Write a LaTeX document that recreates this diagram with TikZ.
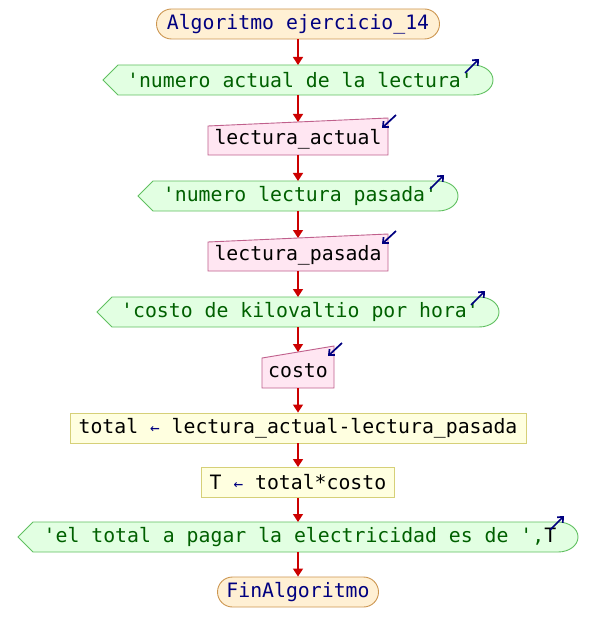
\documentclass[tikz,border=0pt]{standalone}
\usepackage{fontspec}
\setmonofont{DejaVu Sans Mono}
\usetikzlibrary{arrows.meta}

\definecolor{flowred}{RGB}{204,0,0}
\definecolor{navyink}{RGB}{0,0,128}
\definecolor{termfill}{RGB}{255,240,212}
\definecolor{termdraw}{RGB}{204,150,80}
\definecolor{outfill}{RGB}{226,255,226}
\definecolor{outdraw}{RGB}{96,192,96}
\definecolor{outtext}{RGB}{0,96,0}
\definecolor{infill}{RGB}{255,230,242}
\definecolor{indraw}{RGB}{192,96,140}
\definecolor{asgfill}{RGB}{255,255,224}
\definecolor{asgdraw}{RGB}{214,208,120}

\tikzset{
  txt/.style={font=\ttfamily\fontsize{19.8bp}{24bp}\selectfont, inner sep=0pt},
  termbox/.style={txt, draw=termdraw, fill=termfill, line width=0.9bp,
    rounded corners=15bp, minimum height=30bp, text=navyink},
  asgbox/.style={txt, draw=asgdraw, fill=asgfill, line width=0.9bp,
    minimum height=30bp, text=black},
  outshape/.style={draw=outdraw, fill=outfill, line width=0.9bp},
  inshape/.style={draw=indraw, fill=infill, line width=0.9bp},
  flow/.style={draw=flowred, line width=1.4bp,
    -{Triangle[length=8bp,width=10bp]}},
  iomark/.style={draw=navyink, line width=1.7bp,
    -{Straight Barb[length=4.5bp,width=8bp]}},
}

% output (display) shape: x1 tip, x2 right bulge, top, bottom, name, text
\newcommand{\outshapebox}[6]{%
  \path[outshape] (#1,{(#3+#4)/2}) -- ({#1+15},#3) -- ({#2-20},#3)
    .. controls ({#2-9},#3) and (#2,{(#3+#4)/2-8.5}) .. (#2,{(#3+#4)/2})
    .. controls (#2,{(#3+#4)/2+8.5}) and ({#2-9},#4) .. ({#2-20},#4)
    -- ({#1+15},#4) -- cycle;
  \node[txt, text=outtext] (#5) at ({(#1+#2)/2+2},{(#3+#4)/2}) {#6};
  \coordinate (#5-t) at (298,#3);
  \coordinate (#5-b) at (298,#4);
  \draw[iomark] ({#2-28},{#3+8}) -- ({#2-14},{#3-6});
}

% input (manual entry) shape: x1, x2, top left, top right, bottom, name, text
\newcommand{\inshapebox}[7]{%
  \path[inshape] (#1,#3) -- (#2,#4) -- (#2,#5) -- (#1,#5) -- cycle;
  \node[txt] (#6) at ({(#1+#2)/2},{((#3+#4)/2+#5)/2+1}) {#7};
  \coordinate (#6-t) at (298,{#3+(#4-#3)*(298-#1)/(#2-#1)});
  \coordinate (#6-b) at (298,#5);
  \draw[iomark] ({#2+8},{#4-3}) -- ({#2-6},{#4+10});
}

\begin{document}
\begin{tikzpicture}[x=1bp, y=-1bp]
\useasboundingbox (0,0) rectangle (596,643);
\fill[white] (0,0) rectangle (596,643);

% start and end of the algorithm
\node[termbox, minimum width=283bp] (inicio) at (298,24) {Algoritmo ejercicio\_14};
\node[termbox, minimum width=161bp] (fin) at (298,592) {FinAlgoritmo};

% reading the current meter value
\outshapebox{103}{493}{65}{95}{msgA}{'numero actual de la lectura'}
\inshapebox{208}{388}{126}{118}{155}{leeA}{lectura\_actual}

% reading the previous meter value
\outshapebox{138}{458}{181}{211}{msgB}{'numero lectura pasada'}
\inshapebox{208}{388}{242}{234}{271}{leeB}{lectura\_pasada}

% reading the cost per kilowatt hour
\outshapebox{97}{499}{297}{327}{msgC}{'costo de kilovaltio por hora'}
\inshapebox{262}{334}{358}{346}{388}{leeC}{costo}

% computations
\node[asgbox, minimum width=456bp] (asgA) at (298,428)
  {total {\color{navyink}\fontsize{16bp}{18bp}\selectfont ←} lectura\_actual-lectura\_pasada};
\node[asgbox, minimum width=193bp] (asgB) at (298,482.5)
  {T {\color{navyink}\fontsize{16bp}{18bp}\selectfont ←} total*costo};

% final message
\outshapebox{18}{578}{522}{552}{msgD}{'el total a pagar la electricidad es de ',{\color{black}T}}

% flow connectors
\draw[flow] (inicio.south) -- (msgA-t);
\draw[flow] (msgA-b) -- (leeA-t);
\draw[flow] (leeA-b) -- (msgB-t);
\draw[flow] (msgB-b) -- (leeB-t);
\draw[flow] (leeB-b) -- (msgC-t);
\draw[flow] (msgC-b) -- (leeC-t);
\draw[flow] (leeC-b) -- (asgA.north);
\draw[flow] (asgA.south) -- (asgB.north);
\draw[flow] (asgB.south) -- (msgD-t);
\draw[flow] (msgD-b) -- (fin.north);
\end{tikzpicture}
\end{document}
